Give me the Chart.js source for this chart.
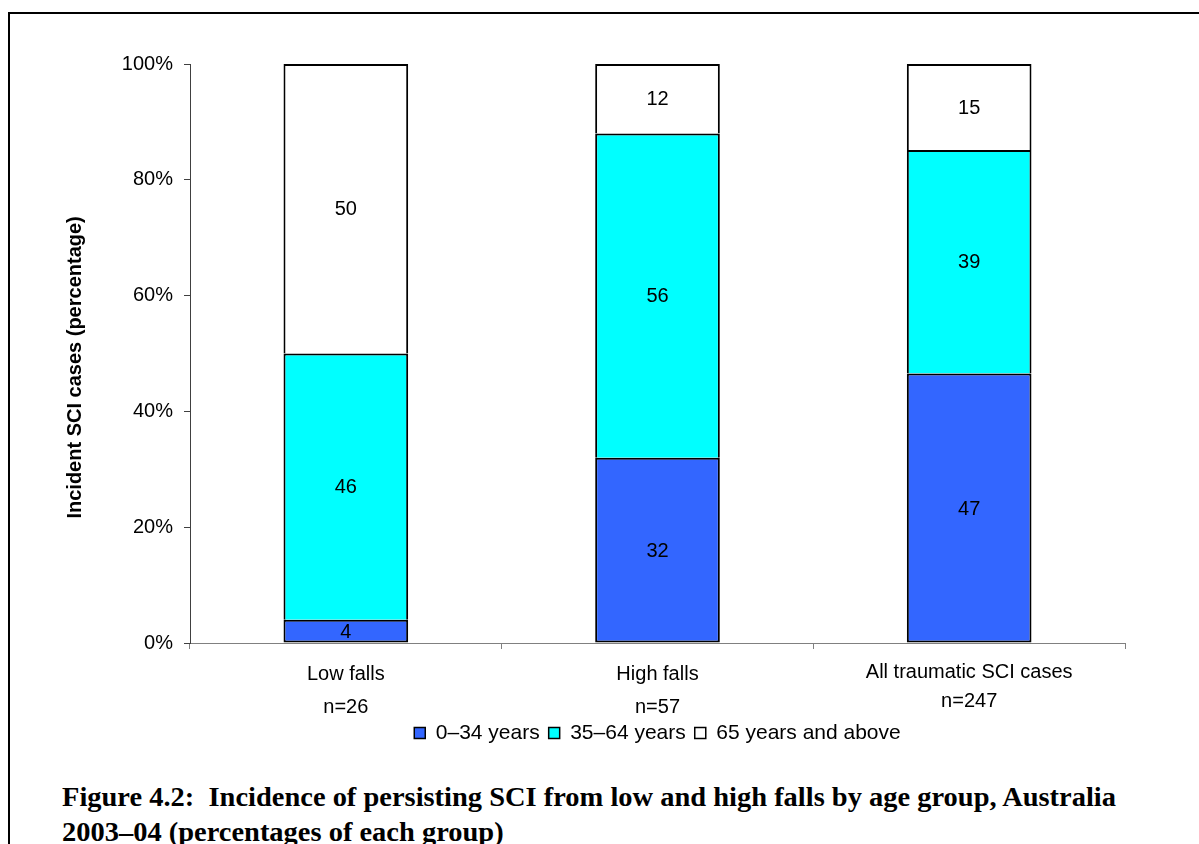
<!DOCTYPE html>
<html>
<head>
<meta charset="utf-8">
<title>Incidence of persisting SCI from low and high falls by age group</title>
<script src="https://cdn.jsdelivr.net/npm/chart.js@4.4.1/dist/chart.umd.min.js"></script>
<style>
  html, body { margin: 0; padding: 0; background: #fff; width: 1199px; height: 844px; overflow: hidden; }
  #frame { position: absolute; left: 8px; top: 12px; width: 1300px; height: 900px;
           border-left: 2px solid #000; border-top: 2px solid #000; }
  #chart { position: absolute; left: 0; top: 0; }
  #caption { position: absolute; left: 62px; top: 780px; margin: 0;
             font: bold 27px "Liberation Serif", "Times New Roman", serif;
             line-height: 35px; white-space: pre; color: #000; transform-origin: 0 0; }
</style>
</head>
<body>
<div id="frame"></div>
<canvas id="chart" width="1199" height="763"></canvas>
<div id="caption"><span id="captionLine1">Figure 4.2:  Incidence of persisting SCI from low and high falls by age group, Australia</span>
<span>2003–04 (percentages of each group)</span></div>

<script>
// Groups on the x axis (name, sample size)
const groups = [
  ["Low falls", "n=26"],
  ["High falls", "n=57"],
  ["All traumatic SCI cases", "n=247"]
];

// Age groups, bottom to top of each stack
const ageGroups = ["0–34 years", "35–64 years", "65 years and above"];

// Percentage of each group (as printed in the segments)
const age0to34 = [4, 32, 47];
const age35to64 = [46, 56, 39];
const age65plus = [50, 12, 15];

// Y axis tick values (percent)
const yTicks = [0, 20, 40, 60, 80, 100];

const segmentColors = ["#3366FF", "#00FFFF", "#FFFFFF"];
const seriesValues = [age0to34, age35to64, age65plus];

// 100% stacked: each group's stack is scaled to its own total
const totals = groups.map((g, j) => seriesValues.reduce((s, arr) => s + arr[j], 0));
const asShare = (arr) => arr.map((v, j) => v / totals[j] * 100);

const sansFamily = '"Liberation Sans", Arial, Helvetica, sans-serif';

// Writes the printed value in the middle of each stack segment
const segmentLabels = {
  id: 'segmentLabels',
  afterDatasetsDraw(chart) {
    const ctx = chart.ctx;
    ctx.save();
    ctx.font = '20px ' + sansFamily;
    ctx.fillStyle = '#000';
    ctx.textAlign = 'center';
    ctx.textBaseline = 'middle';
    chart.data.datasets.forEach((ds, i) => {
      const meta = chart.getDatasetMeta(i);
      meta.data.forEach((bar, j) => {
        const p = bar.getCenterPoint();
        ctx.fillText(String(ds.printed[j]), p.x, p.y + 1);
      });
    });
    ctx.restore();
  }
};

// Legend sits under the plot, centred on the plot area
const legendUnderPlot = {
  id: 'legendUnderPlot',
  afterLayout(chart) {
    const lg = chart.legend;
    const area = chart.chartArea;
    if (!lg) return;
    const h = lg.height;
    lg.left = area.left;
    lg.right = area.right;
    lg.width = area.right - area.left;
    lg.top = 713.5;
    lg.bottom = lg.top + h;
  }
};

const datasets = ageGroups.map((name, i) => ({
  label: name,
  data: asShare(seriesValues[i]),
  printed: seriesValues[i],
  backgroundColor: segmentColors[i],
  borderColor: '#000000',
  borderWidth: 2,
  borderSkipped: i === 0 ? false : 'start',
  categoryPercentage: 1.0,
  barPercentage: 0.4
}));

new Chart(document.getElementById('chart'), {
  type: 'bar',
  data: { labels: groups, datasets },
  plugins: [segmentLabels, legendUnderPlot],
  options: {
    responsive: false,
    animation: false,
    devicePixelRatio: 1,
    layout: { padding: { top: 64, right: 74, bottom: 0, left: 0 } },
    plugins: {
      tooltip: { enabled: false },
      title: { display: false },
      legend: {
        display: true,
        position: 'bottom',
        align: 'center',
        labels: {
          color: '#000',
          font: { family: sansFamily, size: 21 },
          boxWidth: 11,
          boxHeight: 11,
          padding: 9,
          generateLabels(chart) {
            const items = Chart.defaults.plugins.legend.labels.generateLabels(chart);
            items.forEach(it => { it.lineWidth = 1.5; it.strokeStyle = '#000'; });
            return items;
          }
        }
      }
    },
    scales: {
      x: {
        stacked: true,
        offset: true,
        grid: { offset: true, drawOnChartArea: false, drawTicks: true, tickLength: 6, color: '#808080' },
        border: { display: true, color: '#808080', width: 1 },
        ticks: {
          color: '#000',
          autoSkip: false,
          maxRotation: 0,
          minRotation: 0,
          padding: 8.5,
          font: (c) => ({ family: sansFamily, size: 20, lineHeight: c.index === 2 ? '29px' : '33px' })
        },
        afterFit(scale) { scale.height = 80; }
      },
      y: {
        stacked: true,
        min: 0,
        max: 100,
        grid: { drawOnChartArea: false, drawTicks: true, tickLength: 6, color: '#404040' },
        border: { display: true, color: '#404040', width: 1 },
        ticks: {
          color: '#000',
          padding: 11,
          font: { family: sansFamily, size: 20 },
          callback: (v) => v + '%'
        },
        afterBuildTicks(scale) { scale.ticks = yTicks.map(v => ({ value: v })); },
        title: {
          display: true,
          text: 'Incident SCI cases (percentage)     ',
          color: '#000',
          font: { family: sansFamily, size: 20, weight: 'bold', lineHeight: 1.2 },
          padding: { top: 63, bottom: 0 }
        },
        afterFit(scale) { scale.width = 190; }
      }
    }
  }
});

// Caption line set to the printed column width
const captionWidth = 1054;
const caption = document.getElementById('caption');
const line1 = document.getElementById('captionLine1');
const w = line1.getBoundingClientRect().width;
if (w > 0) caption.style.transform = 'scaleX(' + (captionWidth / w) + ')';
</script>
</body>
</html>
